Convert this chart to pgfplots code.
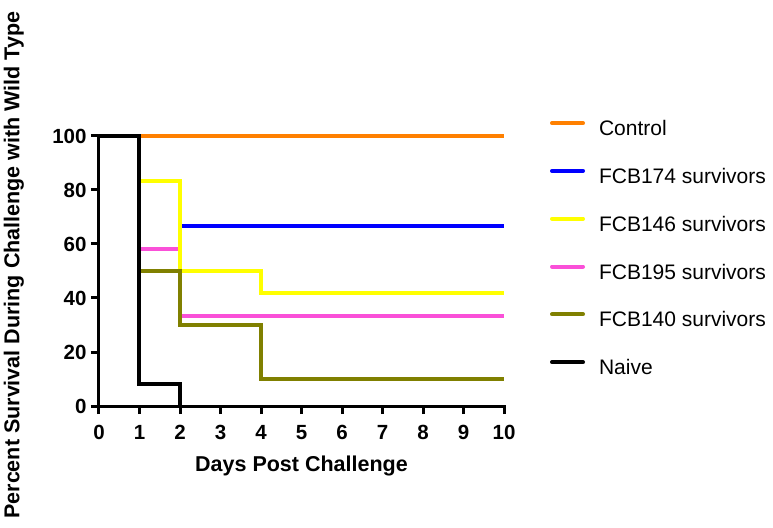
\documentclass[border=0pt]{standalone}
\usepackage{fontspec}
\setmainfont{Liberation Sans}
\usepackage{pgfplots}
\pgfplotsset{compat=1.18}
\definecolor{ctrl}{HTML}{FF8000}
\definecolor{fcbblue}{HTML}{0000FF}
\definecolor{fcbyellow}{HTML}{FFFF00}
\definecolor{fcbpink}{HTML}{FA50D8}
\definecolor{fcbolive}{HTML}{808000}

\begin{document}
\begin{tikzpicture}
\path[use as bounding box] (-99pt,-121pt) rectangle (674pt,406pt);
\begin{axis}[
    at={(0pt,0pt)}, anchor=south west,
    scale only axis,
    width=405pt, height=270pt,
    xmin=0, xmax=10, ymin=0, ymax=100,
    axis lines=left,
    axis line style={line width=3pt, -, line cap=rect},
    clip=false,
    xtick={0,1,...,10},
    ytick={0,20,...,100},
    tick align=outside,
    major tick length=8pt,
    tick style={line width=3pt, black},
    /pgf/number format/assume math mode=true,
    ticklabel style={font=\fontsize{20.5}{20.5}\selectfont\bfseries},
    xticklabel style={yshift=-8pt},
    yticklabel style={xshift=-1pt},
    xlabel={Days Post Challenge},
    ylabel={Percent Survival During Challenge with Wild Type},
    label style={font=\fontsize{21.5}{21.5}\selectfont\bfseries},
    xlabel style={at={(axis description cs:0.5,-0.222)}, anchor=center},
    ylabel style={at={(axis description cs:-0.21,0.522)}, anchor=center, rotate=0},
    every axis plot/.append style={line width=4pt, const plot, mark=none},
    legend image code/.code={\draw[#1, line cap=round] (1pt,7.5pt) -- (32pt,7.5pt);},
    legend cell align=left,
    legend style={
        at={(axis description cs:1.1136,1.057)}, anchor=north west,
        draw=none, fill=none, inner sep=0pt, outer sep=0pt,
        row sep=27.8pt,
        font=\fontsize{21}{21}\selectfont,
        nodes={inner sep=0pt, text height=15pt, text depth=5pt},
        /tikz/every odd column/.append style={column sep=14pt},
    },
]
% drawing order chosen so the overlaps look like the original
\addplot[ctrl, forget plot] coordinates {(0,100) (10,100)};
\addplot[fcbblue, forget plot] coordinates {(2,66.67) (10,66.67)};
\addplot[fcbpink, forget plot] coordinates {(0,100) (1,58.33) (2,33.33) (10,33.33)};
\addplot[fcbyellow, forget plot] coordinates {(0,100) (1,83.33) (2,50) (4,41.67) (10,41.67)};
\addplot[fcbolive, forget plot] coordinates {(0,100) (1,50) (2,30) (4,10) (10,10)};
\addplot[black, forget plot] coordinates {(0,100) (1,8.33) (2,0)};

\addlegendimage{ctrl, line width=4pt}
\addlegendentry{Control}
\addlegendimage{fcbblue, line width=4pt}
\addlegendentry{FCB174 survivors}
\addlegendimage{fcbyellow, line width=4pt}
\addlegendentry{FCB146 survivors}
\addlegendimage{fcbpink, line width=4pt}
\addlegendentry{FCB195 survivors}
\addlegendimage{fcbolive, line width=4pt}
\addlegendentry{FCB140 survivors}
\addlegendimage{black, line width=4pt}
\addlegendentry{Naive}
\end{axis}
\end{tikzpicture}
\end{document}
